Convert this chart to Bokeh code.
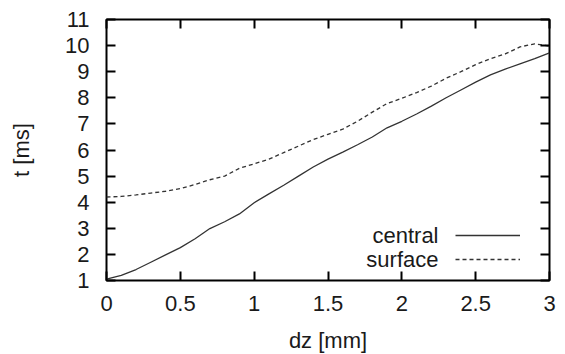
from bokeh.plotting import figure
from bokeh.models import LinearAxis, Legend, LegendItem, Label, FixedTicker, Range1d
from bokeh.embed import file_html
from bokeh.resources import INLINE

# ---- data ----
dz = [0.0, 0.1, 0.2, 0.3, 0.4, 0.5, 0.6, 0.7, 0.8, 0.9, 1.0,
      1.1, 1.2, 1.3, 1.4, 1.5, 1.6, 1.7, 1.8, 1.9, 2.0,
      2.1, 2.2, 2.3, 2.4, 2.5, 2.6, 2.7, 2.8, 2.9, 3.0]
central = [1.05, 1.20, 1.42, 1.70, 1.98, 2.26, 2.60, 2.99, 3.25, 3.55, 3.98,
           4.32, 4.65, 5.00, 5.35, 5.65, 5.92, 6.20, 6.50, 6.85, 7.10,
           7.38, 7.68, 8.00, 8.30, 8.60, 8.88, 9.10, 9.30, 9.50, 9.72]
surface = [4.20, 4.22, 4.28, 4.35, 4.42, 4.52, 4.68, 4.86, 5.00, 5.30, 5.47,
           5.65, 5.90, 6.15, 6.40, 6.60, 6.80, 7.10, 7.45, 7.78, 7.98,
           8.20, 8.45, 8.75, 9.00, 9.27, 9.50, 9.68, 9.95, 10.07, 9.98]
series_names = ["central", "surface"]
x_ticks = [0, 0.5, 1, 1.5, 2, 2.5, 3]
x_tick_labels = ["0", "0.5", "1", "1.5", "2", "2.5", "3"]
y_ticks = [1, 2, 3, 4, 5, 6, 7, 8, 9, 10, 11]
x_label = "dz [mm]"
y_label = "t [ms]"

FONT = "Liberation Sans"
FS = "22px"
TXT = "#1a1a1a"

p = figure(frame_width=443, frame_height=261,
           x_range=Range1d(0, 3), y_range=Range1d(1, 11),
           output_backend="svg", toolbar_location=None,
           min_border_left=106, min_border_top=19, min_border_right=16,
           min_border_bottom=40)
p.xgrid.visible = False
p.ygrid.visible = False
p.outline_line_color = "black"
p.outline_line_width = 2
p.background_fill_color = "white"
p.border_fill_color = "white"

def style_axis(ax, ticks, show_labels=True):
    ax.ticker = FixedTicker(ticks=ticks)
    ax.axis_line_color = None
    ax.major_tick_in = 9
    ax.major_tick_out = 0
    ax.major_tick_line_width = 2
    ax.major_tick_line_color = "black"
    ax.minor_tick_line_color = None
    if show_labels:
        ax.major_label_text_font = FONT
        ax.major_label_text_font_size = FS
        ax.major_label_text_color = TXT
        ax.axis_label_text_font = FONT
        ax.axis_label_text_font_size = FS
        ax.axis_label_text_font_style = "normal"
        ax.axis_label_text_color = TXT
    else:
        ax.major_label_text_color = None
        ax.major_label_text_font_size = "1px"
        ax.major_label_standoff = 0

style_axis(p.xaxis[0], x_ticks)
p.xaxis[0].major_label_overrides = {t: l for t, l in zip(x_ticks, x_tick_labels)}
p.xaxis[0].major_label_standoff = 15
p.xaxis[0].axis_label = x_label
p.xaxis[0].axis_label_standoff = 14

style_axis(p.yaxis[0], y_ticks)
p.yaxis[0].major_label_standoff = 17
p.yaxis[0].axis_label = y_label
p.yaxis[0].axis_label_standoff = 28

top = LinearAxis()
style_axis(top, x_ticks, show_labels=False)
p.add_layout(top, "above")
right = LinearAxis()
style_axis(right, y_ticks, show_labels=False)
p.add_layout(right, "right")

r1 = p.line(dz, central, line_color="#333333", line_width=1.3)
r2 = p.line(dz, surface, line_color="#333333", line_width=1.3, line_dash="4 3")

legend = Legend(items=[LegendItem(label=" ", renderers=[r1]),
                       LegendItem(label=" ", renderers=[r2])],
                location=(349, 11), glyph_width=65, glyph_height=20,
                label_width=0, label_standoff=0, label_height=20,
                label_text_font_size="1px", label_text_color=None,
                spacing=4, padding=0, margin=0,
                border_line_color=None, background_fill_alpha=0)
p.add_layout(legend, "center")

for name, ypos in zip(series_names, [45, 21]):
    p.add_layout(Label(x=332, y=ypos, x_units="screen", y_units="screen",
                       text=name, text_align="right", text_baseline="middle",
                       text_font=FONT, text_font_size=FS, text_color=TXT))

open("out.html", "w").write(file_html(p, INLINE))
